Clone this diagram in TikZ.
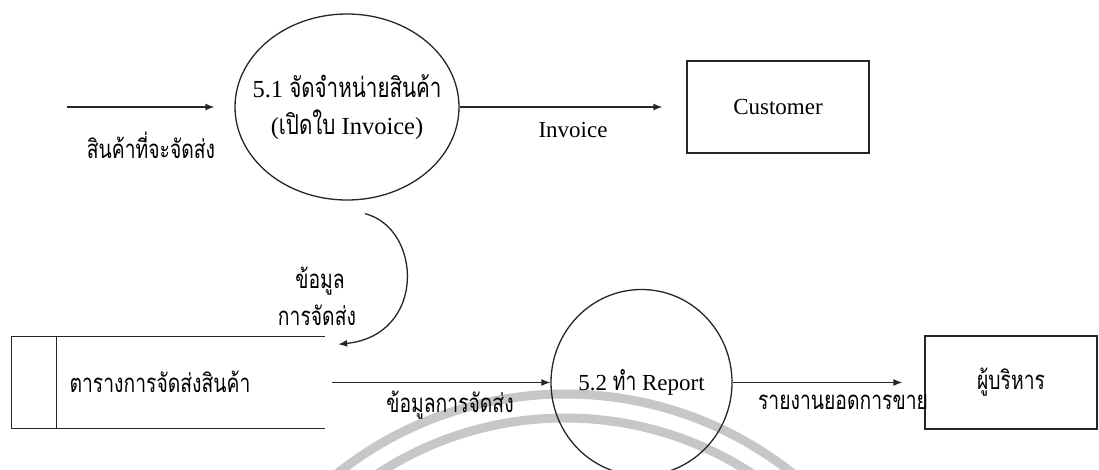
\documentclass[tikz,border=0pt]{standalone}
\usepackage{fontspec}
\setmainfont{Liberation Serif}
\newfontfamily\thaifont[Script=Thai,FakeStretch=0.75,Scale=1.12]{Loma}
\newcommand\tha[1]{{\thaifont #1}}
\usetikzlibrary{shapes.geometric,arrows.meta,calc}
\tikzset{
  ln/.style={draw=black!85, line width=1.3pt},
  proc/.style={ellipse, ln, inner sep=0pt, align=center, font=\fontsize{23}{37}\selectfont},
  ent/.style={rectangle, ln, inner sep=0pt, font=\fontsize{23}{28}\selectfont},
  storebox/.style={rectangle, inner sep=0pt, minimum width=313pt, minimum height=92pt},
  flow/.style={ln, -{Latex[length=9pt,width=7pt]}},
  lbl/.style={inner sep=0pt, font=\fontsize{23}{28}\selectfont},
  wm/.style={draw=black!22, line width=9pt},
}
\begin{document}
\begin{tikzpicture}[x=1pt,y=-1pt]
\useasboundingbox (0,0) rectangle (1099,469);
\fill[white] (0,0) rectangle (1099,469);
% watermark arcs
\draw[wm] (565,760) circle[radius=366];
\draw[wm] (565,760) circle[radius=342];
% processes and entities
\node[proc, minimum width=224pt, minimum height=186pt, inner xsep=-40pt,
      font=\fontsize{24.5}{37}\selectfont] (p51) at (347,107)
  {5.1 \tha{จัดจำหน่ายสินค้า}\\(\tha{เปิดใบ} Invoice)};
\node[ent, minimum width=182pt, minimum height=92pt] (cust) at (778,107) {Customer};
\node[storebox] (store) at (168.5,382.5) {};
\draw[ln] (store.north east) -- (store.north west) -- (store.south west) -- (store.south east);
\draw[ln] ($(store.north west)+(45,0)$) -- ($(store.south west)+(45,0)$);
\node[lbl] (storetext) at (160,382) {\tha{ตารางการจัดส่งสินค้า}};
\node[proc, minimum width=181pt, minimum height=186pt] (p52) at (641.5,382.5) {5.2 \tha{ทำ} Report};
\node[ent, minimum width=172pt, minimum height=93pt] (mgr) at (1011,382.5) {\tha{ผู้บริหาร}};
% flows
\coordinate (src) at (67,107);
\draw[flow] (src) -- ($(p51.west)+(-20,0)$);
\draw[flow, shorten >=24pt] (p51.east) -- (cust.west);
\draw[flow] ($(p51.south)+(18,13)$) .. controls (422,228) and (427,335) .. ($(store.north east)+(13,8)$);
\draw[flow, shorten <=7pt] (store.east) -- (p52.west);
\draw[flow, shorten >=22pt] (p52.east) -- (mgr.west);
% labels
\node[lbl] (l1) at (151,145) {\tha{สินค้าที่จะจัดส่ง}};
\node[lbl] (l2) at (573,130) {Invoice};
\node[lbl] (l3) at (320,281) {\tha{ข้อมูล}};
\node[lbl] (l4) at (317,315) {\tha{การจัดส่ง}};
\node[lbl] (l5) at (450,405) {\tha{ข้อมูลการจัดส่ง}};
\node[lbl] (l6) at (843,402) {\tha{รายงานยอดการขาย}};
\end{tikzpicture}
\end{document}
